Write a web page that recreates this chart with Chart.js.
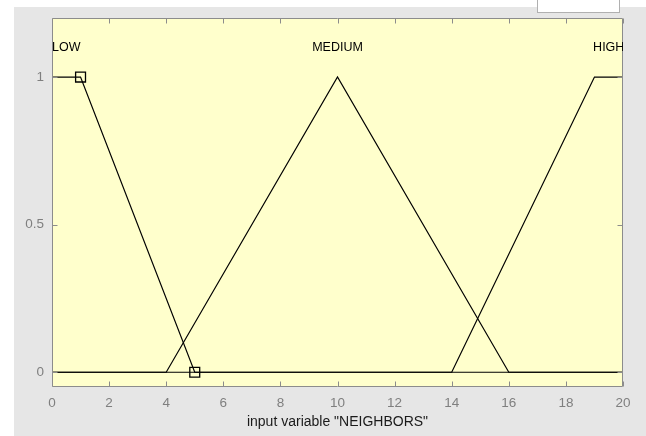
<!DOCTYPE html>
<html><head><meta charset="utf-8">
<script src="https://cdn.jsdelivr.net/npm/chart.js@4"></script>
<style>html,body{margin:0;padding:0;background:#fff;overflow:hidden}#wrap{position:absolute;left:0;top:0;width:646px;height:436px}</style>
</head><body><div id="wrap"><canvas id="c" width="646" height="436"></canvas></div>
<script>
const xTicks=[0,2,4,6,8,10,12,14,16,18,20];
const yTicks=[0,0.5,1];
const yTickLabels=['0','0.5','1'];
const lowX=[0,1,5,20], lowY=[1,1,0,0];
const medX=[0,4,10,16,20], medY=[0,0,1,0,0];
const highX=[0,14,19,20], highY=[0,0,1,1];
const mfNames=['LOW','MEDIUM','HIGH'];
const mfLabelX=[0.5,10,19.5];
const mfLabelY=1.1;
const markerX=[1,5], markerY=[1,0];
const xTitle='input variable "NEIGHBORS"';

const FONT="'Liberation Sans',Arial,sans-serif";
const pts=(xs,ys)=>xs.map((x,i)=>({x:x,y:ys[i]}));
const lineDs=(label,xs,ys)=>({label:label,data:pts(xs,ys),borderColor:'#000',borderWidth:1.2,pointRadius:0,fill:false,tension:0});

const deco={
  id:'deco',
  beforeDraw(chart){
    const ctx=chart.ctx, a=chart.chartArea;
    ctx.save();
    ctx.fillStyle='#fff';ctx.fillRect(0,0,chart.width,chart.height);
    ctx.fillStyle='#e6e6e6';ctx.fillRect(14,7,chart.width-14,chart.height-7);
    ctx.fillStyle='#ffffcc';ctx.fillRect(a.left,a.top,a.right-a.left,a.bottom-a.top);
    ctx.restore();
  },
  afterDraw(chart){
    const ctx=chart.ctx, a=chart.chartArea, xs=chart.scales.x, ys=chart.scales.y;
    ctx.save();
    ctx.strokeStyle='#8c8c8c';ctx.lineWidth=1;
    ctx.beginPath();
    const L=Math.round(a.left)+0.5,R=Math.round(a.right)-0.5,T=Math.round(a.top)+0.5,B=Math.round(a.bottom)-0.5;
    ctx.rect(L,T,R-L,B-T);ctx.stroke();
    ctx.beginPath();
    xTicks.forEach(v=>{const p=Math.round(xs.getPixelForValue(v))+0.5;
      ctx.moveTo(p,T);ctx.lineTo(p,T+5);ctx.moveTo(p,B);ctx.lineTo(p,B-5);});
    yTicks.forEach(v=>{const p=Math.round(ys.getPixelForValue(v))+0.5;
      ctx.moveTo(L,p);ctx.lineTo(L+5,p);ctx.moveTo(R,p);ctx.lineTo(R-5,p);});
    ctx.stroke();
    // mf labels
    ctx.save();
    ctx.beginPath();ctx.rect(0,a.top,a.right,a.bottom-a.top);ctx.clip();
    ctx.fillStyle='#000';ctx.font='12.5px '+FONT;ctx.textAlign='center';ctx.textBaseline='middle';
    mfNames.forEach((n,i)=>ctx.fillText(n,xs.getPixelForValue(mfLabelX[i]),ys.getPixelForValue(mfLabelY)));
    ctx.restore();
    // x title
    ctx.fillStyle='#1a1a1a';ctx.font='14px '+FONT;ctx.textAlign='center';ctx.textBaseline='middle';
    ctx.fillText(xTitle,(a.left+a.right)/2,422);
    // top-right white box
    ctx.fillStyle='#fff';ctx.fillRect(537,0,83,13);
    ctx.strokeStyle='#b0b0b0';ctx.strokeRect(537.5,-1,82,13.5);
    ctx.restore();
  }
};

new Chart(document.getElementById('c'),{
  type:'line',
  data:{datasets:[
    lineDs('LOW',lowX,lowY),
    lineDs('MEDIUM',medX,medY),
    lineDs('HIGH',highX,highY),
    {label:'params',data:pts(markerX,markerY),showLine:false,pointStyle:'rect',pointRadius:7,pointHoverRadius:7,pointBorderColor:'#000',pointBackgroundColor:'rgba(0,0,0,0)',pointBorderWidth:1.3}
  ]},
  options:{
    responsive:false,animation:false,devicePixelRatio:1,
    layout:{padding:{top:18,right:23,left:0,bottom:0}},
    plugins:{legend:{display:false},tooltip:{enabled:false}},
    scales:{
      x:{type:'linear',min:0,max:20,
        afterBuildTicks:s=>{s.ticks=xTicks.map(v=>({value:v}));},
        afterFit:s=>{s.height=49;},
        grid:{display:false,drawTicks:false},border:{display:false},
        ticks:{color:'#7f7f7f',font:{family:FONT,size:13.5},padding:8,maxRotation:0,autoSkip:false}},
      y:{type:'linear',min:-0.05,max:1.2,
        afterBuildTicks:s=>{s.ticks=yTicks.map(v=>({value:v}));},
        afterFit:s=>{s.width=52;},
        grid:{display:false,drawTicks:false},border:{display:false},
        ticks:{color:'#7f7f7f',font:{family:FONT,size:13.5},padding:8,
          callback:(v)=>{const i=yTicks.indexOf(v);return i>=0?yTickLabels[i]:'';}}}
    }
  },
  plugins:[deco]
});
</script></body></html>
